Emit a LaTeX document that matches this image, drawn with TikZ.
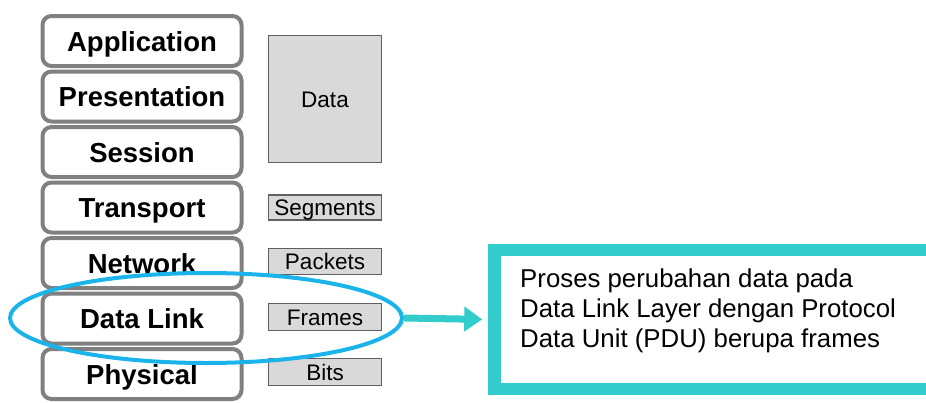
\documentclass[tikz,border=0pt]{standalone}
\usepackage{fontspec}
\setmainfont{Liberation Sans}
\usetikzlibrary{shapes.geometric,arrows.meta}
\definecolor{laygray}{HTML}{808080}
\definecolor{pdufill}{HTML}{D9D9D9}
\definecolor{pdudraw}{HTML}{606060}
\definecolor{selblue}{HTML}{1AB4EA}
\definecolor{boxteal}{HTML}{33CCCC}
\tikzset{
  layer/.style={draw=laygray, fill=white, line width=4pt, rounded corners=9pt,
    minimum width=199pt, minimum height=50pt, inner sep=0pt,
    text height=20pt, text depth=0pt,
    font=\fontsize{27.5}{30}\selectfont\bfseries},
  pdu/.style={draw=pdudraw, fill=pdufill, line width=1.6pt, minimum width=113pt,
    inner sep=0pt, text height=16pt, text depth=0pt, font=\fontsize{22.5}{26}\selectfont},
  infotext/.style={anchor=base west, inner sep=0pt, font=\fontsize{25.8}{30}\selectfont}
}
\begin{document}
\begin{tikzpicture}[x=1pt,y=-1pt]
\useasboundingbox (0,0) rectangle (926,402);
\node[layer] (app) at (142,41) {Application};
\node[layer] (pres) at (142,96.5) {Presentation};
\node[layer] (sess) at (142,152) {Session};
\node[layer] (trans) at (142,207.5) {Transport};
\node[layer] (net) at (142,263) {Network};
\node[layer] (dl) at (142,318.5) {Data Link};
\node[layer] (phys) at (142,374) {Physical};
\node[pdu, minimum height=127pt] (data) at (325,99) {Data};
\node[pdu, minimum height=25pt] (seg) at (325,207.5) {Segments};
\node[pdu, minimum height=26pt] (pkt) at (325,261.5) {Packets};
\node[pdu, minimum height=27pt] (frm) at (325,317) {Frames};
\node[pdu, minimum height=27pt] (bits) at (325,372) {Bits};
\node[ellipse, draw=selblue, line width=4pt, minimum width=392pt, minimum height=90pt, inner sep=0pt] (sel) at (206,318) {};
\node[draw=boxteal, line width=12.5pt, minimum width=465pt, minimum height=139pt, inner sep=0pt] (info) at (727,319.5) {};
\node[infotext] (l1) at (520,287) {Proses perubahan data pada};
\node[infotext] (l2) at (520,317) {Data Link Layer dengan Protocol};
\node[infotext] (l3) at (520,347) {Data Unit (PDU) berupa frames};
\draw[boxteal, line width=7pt, -{Triangle[width=24pt,length=18pt]}, shorten >=6pt] (sel.east) -- (info.west);
\end{tikzpicture}
\end{document}
